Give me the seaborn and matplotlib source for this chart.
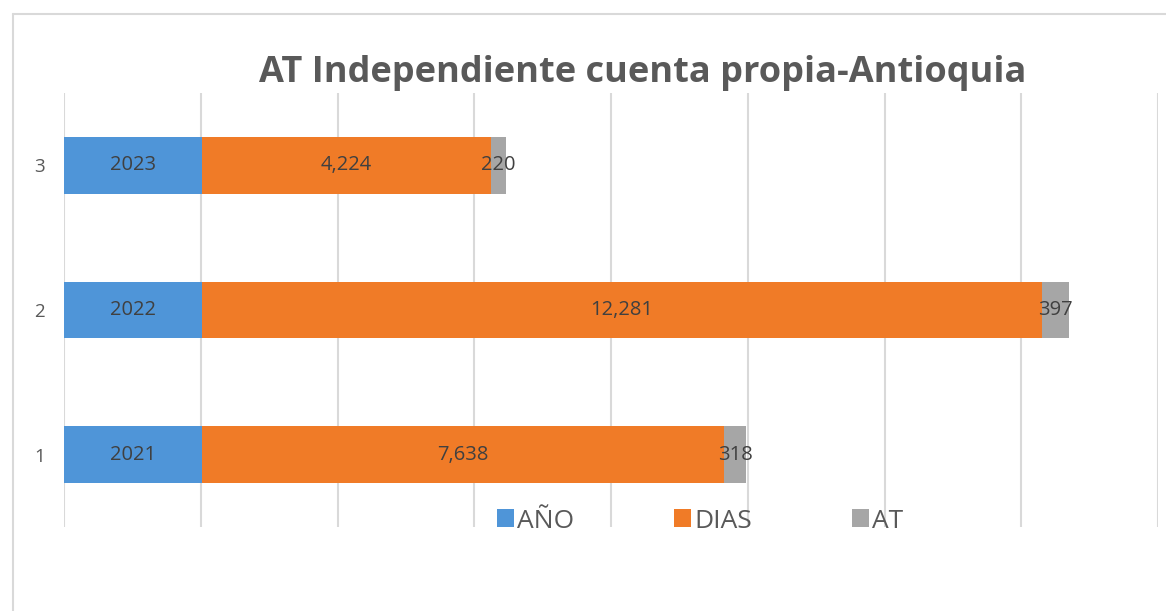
import pandas as pd
import seaborn as sns
import matplotlib.pyplot as plt
from matplotlib.patches import Patch
from matplotlib.lines import Line2D

categories = ["1", "2", "3"]
anio = [2021, 2022, 2023]
dias = [7638, 12281, 4224]
at = [318, 397, 220]

series_names = ["AÑO", "DIAS", "AT"]
colors = ["#4f95d8", "#f07b27", "#a6a6a6"]
text_gray = "#595959"

sns.set_theme(style="white")
plt.rcParams["font.family"] = ["Open Sans", "DejaVu Sans"]

df = pd.DataFrame({"cat": categories, "AÑO": anio, "DIAS": dias, "AT": at})
df["c1"] = df["AÑO"]
df["c2"] = df["AÑO"] + df["DIAS"]
df["c3"] = df["c2"] + df["AT"]
order = categories[::-1]

fig = plt.figure(figsize=(11.66, 6.11), dpi=100)
ax = fig.add_axes([64 / 1166, 1 - 527 / 611, 1094 / 1166, 434 / 611])

# draw stacked bars back to front: cumulative totals
for col, color in zip(["c3", "c2", "c1"], colors[::-1]):
    sns.barplot(data=df, x=col, y="cat", order=order, color=color,
                width=0.39, saturation=1, ax=ax, linewidth=0, orient="h")

# segment labels
for i, cat in enumerate(order):
    row = df[df["cat"] == cat].iloc[0]
    starts = [0, row["c1"], row["c2"]]
    vals = [row["AÑO"], row["DIAS"], row["AT"]]
    for j, (s, v) in enumerate(zip(starts, vals)):
        label = str(v) if j == 0 else f"{v:,}"
        ax.text(s + v / 2, i, label, ha="center", va="center",
                fontsize=14.5, color="#404040")

ax.set_xlim(0, 16000)
ax.set_ylim(2.5, -0.5)
ax.set_xticks(range(0, 16001, 2000))
ax.set_xticklabels([])
ax.grid(axis="x", color="#d9d9d9", linewidth=1.5)
ax.set_axisbelow(True)
for s in ax.spines.values():
    s.set_visible(False)
ax.tick_params(axis="y", length=0, pad=14, labelsize=13.5, labelcolor=text_gray)
ax.tick_params(axis="x", length=0)
ax.set_xlabel("")
ax.set_ylabel("")

fig.text(643 / 1166, 1 - 73 / 611, "AT Independiente cuenta propia-Antioquia",
         ha="center", va="center", fontsize=26, fontweight="bold", color=text_gray)

handles = [Patch(facecolor=c, edgecolor="none") for c in colors]
leg = fig.legend(handles, series_names, loc="center",
                 bbox_to_anchor=(700 / 1166, 1 - 521 / 611), ncol=3,
                 frameon=False, fontsize=19, handlelength=0.65, handleheight=0.65,
                 handletextpad=0.1, columnspacing=3.8, labelcolor=text_gray)

# chart border (top and left visible)
fig.add_artist(Line2D([13 / 1166, 13 / 1166], [0, 1 - 14 / 611],
                      transform=fig.transFigure, color="#d9d9d9", linewidth=1.5))
fig.add_artist(Line2D([13 / 1166, 1], [1 - 14 / 611, 1 - 14 / 611],
                      transform=fig.transFigure, color="#d9d9d9", linewidth=1.5))

fig.savefig("out.png", dpi=100)
